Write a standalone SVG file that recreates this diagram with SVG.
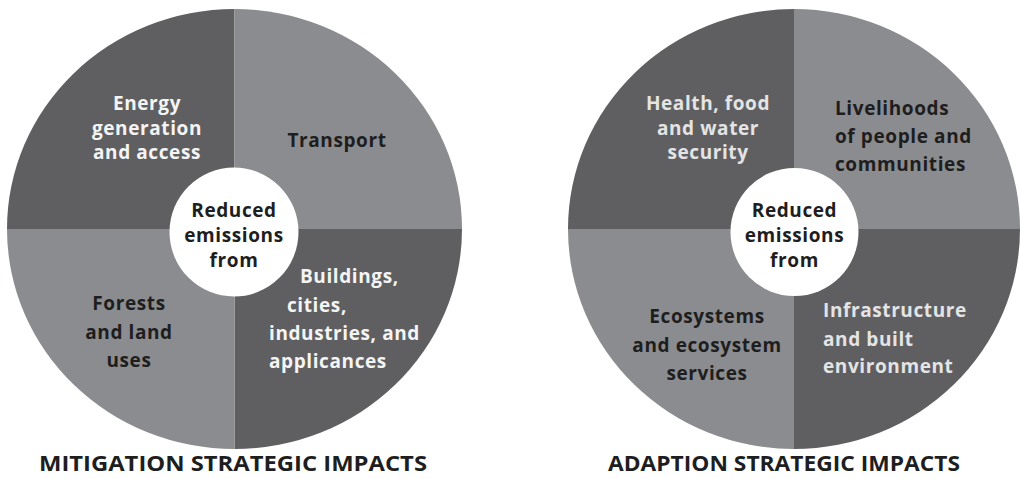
<svg xmlns="http://www.w3.org/2000/svg" width="1020" height="479" viewBox="0 0 1020 479">
<style>
.dark{fill:#5f5f62}
.light{fill:#8b8c8f}
.hub{fill:#ffffff}
text{font-family:"Open Sans","Lato","Liberation Sans",sans-serif;font-weight:bold;font-size:19px;letter-spacing:0.6px}
.wt{fill:#f4f4f4}
.gt{fill:#e4e4e4}
.bt{fill:#1e1e1e}
.c{text-anchor:middle}
.title{font-size:21px;fill:#1e1e1e;text-anchor:middle;letter-spacing:0}
</style>
<rect width="1020" height="479" fill="#ffffff"/>
<g id="mitigation">
  <g id="m-energy">
    <path class="dark" d="M234.5 229 L7 229 A227.5 220 0 0 1 234.5 9 Z"/>
    <text class="wt c" x="147" y="110">Energy</text>
    <text class="wt c" x="147" y="135">generation</text>
    <text class="wt c" x="147" y="159">and access</text>
  </g>
  <g id="m-transport">
    <path class="light" d="M234.5 229 L234.5 9 A227.5 220 0 0 1 462 229 Z"/>
    <text class="bt c" x="337" y="147">Transport</text>
  </g>
  <g id="m-buildings">
    <path class="dark" d="M234.5 229 L462 229 A227.5 220 0 0 1 234.5 449 Z"/>
    <text class="wt" x="300" y="283">Buildings,</text>
    <text class="wt" x="287" y="312">cities,</text>
    <text class="wt" x="269" y="340">industries, and</text>
    <text class="wt" x="269" y="368">applicances</text>
  </g>
  <g id="m-forests">
    <path class="light" d="M234.5 229 L234.5 449 A227.5 220 0 0 1 7 229 Z"/>
    <text class="bt c" x="129" y="310">Forests</text>
    <text class="bt c" x="129" y="339">and land</text>
    <text class="bt c" x="129" y="367">uses</text>
  </g>
  <g id="m-hub">
    <circle class="hub" cx="234" cy="232" r="64.5"/>
    <text class="bt c" x="234" y="217">Reduced</text>
    <text class="bt c" x="234" y="242">emissions</text>
    <text class="bt c" x="234" y="267">from</text>
  </g>
  <text id="m-title" class="title" x="233" y="471" textLength="388" lengthAdjust="spacingAndGlyphs">MITIGATION STRATEGIC IMPACTS</text>
</g>
<g id="adaption">
  <g id="a-health">
    <path class="dark" d="M794 229 L568 229 A226 220 0 0 1 794 9 Z"/>
    <text class="gt c" x="708" y="110">Health, food</text>
    <text class="gt c" x="708" y="135">and water</text>
    <text class="gt c" x="708" y="159">security</text>
  </g>
  <g id="a-livelihoods">
    <path class="light" d="M794 229 L794 9 A226 220 0 0 1 1020 229 Z"/>
    <text class="bt" x="835" y="115">Livelihoods</text>
    <text class="bt" x="835" y="143">of people and</text>
    <text class="bt" x="835" y="171">communities</text>
  </g>
  <g id="a-infrastructure">
    <path class="dark" d="M794 229 L1020 229 A226 220 0 0 1 794 449 Z"/>
    <text class="gt" x="823" y="317">Infrastructure</text>
    <text class="gt" x="823" y="346">and built</text>
    <text class="gt" x="823" y="373">environment</text>
  </g>
  <g id="a-ecosystems">
    <path class="light" d="M794 229 L794 449 A226 220 0 0 1 568 229 Z"/>
    <text class="bt c" x="707" y="323">Ecosystems</text>
    <text class="bt c" x="707" y="352">and ecosystem</text>
    <text class="bt c" x="707" y="380">services</text>
  </g>
  <g id="a-hub">
    <circle class="hub" cx="794.5" cy="232" r="64"/>
    <text class="bt c" x="794.5" y="217">Reduced</text>
    <text class="bt c" x="794.5" y="242">emissions</text>
    <text class="bt c" x="794.5" y="267">from</text>
  </g>
  <text id="a-title" class="title" x="784" y="471" textLength="352" lengthAdjust="spacingAndGlyphs">ADAPTION STRATEGIC IMPACTS</text>
</g>
<g id="connectors"/>
</svg>
